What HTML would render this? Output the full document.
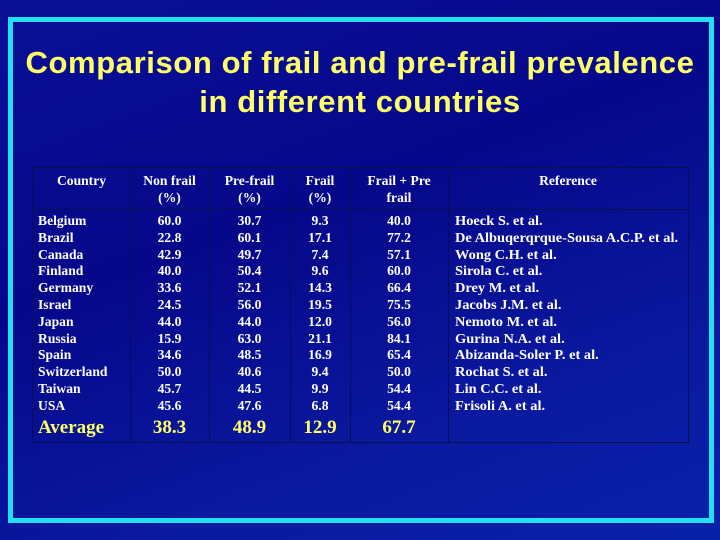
<!DOCTYPE html>
<html><head><meta charset="utf-8"><style>
body{margin:0;width:720px;height:540px;overflow:hidden;background:linear-gradient(160deg,#0a0f96 0%,#06088a 40%,#0a1aa0 75%,#0820a8 100%);font-family:"Liberation Serif",serif;position:relative}
.frame{position:absolute;left:8px;top:17px;width:696px;height:496px;border:5px solid #22e0f0}
h1{position:absolute;left:0;top:43px;width:720px;margin:0;text-align:center;color:#ffff66;font:bold 31px/39px "Liberation Sans",sans-serif;letter-spacing:0.6px}
.tbl{position:absolute;left:32px;top:167px;width:655px;height:274px;border:1px solid #061050}
.v{position:absolute;top:0;bottom:0;border-left:1px solid #061050}
.h{position:absolute;left:0;right:0;top:41px;border-top:1px solid #061050}
.col{position:absolute;color:#fff;font-weight:bold;font-size:13.6px;line-height:16.8px;white-space:pre;transform-origin:0 0}
.c{text-align:center}
.hd{top:4px;line-height:17px}
.body{top:45px}
.avg{position:absolute;top:249px;font-weight:bold;font-size:19px;color:#ffff66}
</style></head><body>
<div class="frame"></div>
<h1>Comparison of frail and pre-frail prevalence<br>in different countries</h1>
<div class="tbl">
<div class="v" style="left:97px"></div><div class="v" style="left:176px"></div><div class="v" style="left:257px"></div><div class="v" style="left:317px"></div><div class="v" style="left:415px"></div>
<div class="h"></div>
<div class="col c hd" style="left:0;width:97px">Country</div>
<div class="col c hd" style="left:97px;width:79px">Non frail
(%)</div>
<div class="col c hd" style="left:176px;width:81px">Pre-frail
(%)</div>
<div class="col c hd" style="left:257px;width:60px">Frail
(%)</div>
<div class="col c hd" style="left:317px;width:98px">Frail + Pre
frail</div>
<div class="col c hd" style="left:415px;width:240px">Reference</div>
<div class="col body" style="left:5px">Belgium
Brazil
Canada
Finland
Germany
Israel
Japan
Russia
Spain
Switzerland
Taiwan
USA</div>
<div class="col c body" style="left:97px;width:79px">60.0
22.8
42.9
40.0
33.6
24.5
44.0
15.9
34.6
50.0
45.7
45.6</div>
<div class="col c body" style="left:176px;width:81px">30.7
60.1
49.7
50.4
52.1
56.0
44.0
63.0
48.5
40.6
44.5
47.6</div>
<div class="col c body" style="left:257px;width:60px">9.3
17.1
7.4
9.6
14.3
19.5
12.0
21.1
16.9
9.4
9.9
6.8</div>
<div class="col c body" style="left:317px;width:98px">40.0
77.2
57.1
60.0
66.4
75.5
56.0
84.1
65.4
50.0
54.4
54.4</div>
<div class="col body" style="left:422px;transform:scaleX(1.06)">Hoeck S. et al.
De Albuqerqrque-Sousa A.C.P. et al.
Wong C.H. et al.
Sirola C. et al.
Drey M. et al.
Jacobs J.M. et al.
Nemoto M. et al.
Gurina N.A. et al.
Abizanda-Soler P. et al.
Rochat S. et al.
Lin C.C. et al.
Frisoli A. et al.</div>
<div class="avg" style="left:5px;color:#ffff66">Average</div>
<div class="avg c" style="left:97px;width:79px">38.3</div>
<div class="avg c" style="left:176px;width:81px">48.9</div>
<div class="avg c" style="left:257px;width:60px">12.9</div>
<div class="avg c" style="left:317px;width:98px">67.7</div>
</div>
</body></html>
